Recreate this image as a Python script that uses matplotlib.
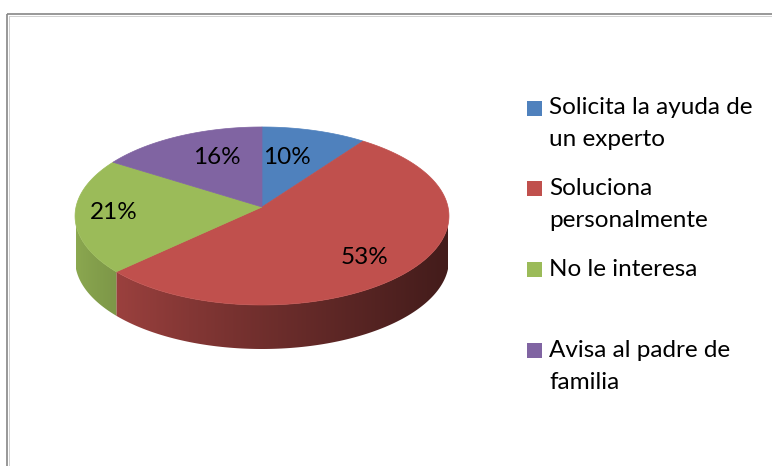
import numpy as np
import matplotlib.pyplot as plt
from matplotlib.colors import to_rgb
from matplotlib.patches import Polygon, Rectangle

labels = ['Solicita la ayuda de\nun experto', 'Soluciona\npersonalmente',
          'No le interesa', 'Avisa al padre de\nfamilia']
values = [10, 53, 21, 16]
colors = ['#4F81BD', '#C0504D', '#9BBB59', '#8064A2']

W, H = 772, 466
plt.rcParams['font.family'] = ['Lato', 'DejaVu Sans']

# pie geometry in pixel units (simple perspective: far side shrinks)
cx, cy = 262, 207
ra, rb = 186, 88.1
persp = 0.101
depth = 44
FS = 17.5
label_r = 0.7
label_nudge = [(-13, 5), (0, 8), (-18, 0), (14, 1)]

fig = plt.figure(figsize=(W / 100, H / 100), dpi=100)
ax = fig.add_axes([0, 0, 1, 1])
ax.set_xlim(0, W)
ax.set_ylim(H, 0)
ax.axis('off')

total = float(sum(values))
spans = [v / total * 360 for v in values]
starts = 90 - np.concatenate([[0], np.cumsum(spans)[:-1]])
ends = starts - np.array(spans)


def proj(theta, r=1.0, dz=0):
    t = np.radians(theta)
    X, Y = r * np.cos(t), r * np.sin(t)
    w = 1 + persp * Y
    return cx + ra * X / w, cy - rb * Y / w + dz


# side wall: visible part is the front half (180..360 deg)
xl, xr = cx - ra, cx + ra
gx = np.linspace(0, 1, 400)
shade = 0.9 - 0.55 * gx ** 0.8
for i in range(len(values)):
    a0, a1 = ends[i] % 360, starts[i] % 360
    if a1 <= a0:
        a1 += 360
    segs = []
    for lo, hi in [(180, 360), (540, 720)]:
        s, e = max(a0, lo), min(a1, hi)
        if e > s:
            segs.append((s, e))
    for s, e in segs:
        ts = np.linspace(s, e, 200)
        top = [proj(t) for t in ts]
        bot = [proj(t, dz=depth) for t in ts[::-1]]
        poly = Polygon(top + bot, closed=True, facecolor='none', edgecolor='none')
        ax.add_patch(poly)
        base = np.array(to_rgb(colors[i]))
        img = np.clip(shade[None, :, None] * base[None, None, :], 0, 1)
        img = np.repeat(img, 2, axis=0)
        im = ax.imshow(img, extent=(xl, xr, cy + rb * 2 + depth, cy - rb * 2),
                       aspect='auto', interpolation='bilinear')
        im.set_clip_path(poly)

ax.set_xlim(0, W)
ax.set_ylim(H, 0)

# top wedges
for i in range(len(values)):
    ts = np.linspace(starts[i], ends[i], 200)
    pts = [(cx, cy)] + [proj(t) for t in ts]
    ax.add_patch(Polygon(pts, closed=True, facecolor=colors[i], edgecolor=colors[i], lw=0.5))

# percentage labels
for i in range(len(values)):
    mid = (starts[i] + ends[i]) / 2
    lx, ly = proj(mid, r=label_r)
    lx += label_nudge[i][0]
    ly += label_nudge[i][1]
    ax.text(lx, ly, '%d%%' % values[i], fontsize=FS, ha='center', va='center', color='black')

# legend
for i, lab in enumerate(labels):
    yc = 108 + i * 80.7
    ax.add_patch(Rectangle((527, yc - 7.5), 15, 15, facecolor=colors[i], edgecolor='none'))
    for k, line in enumerate(lab.split('\n')):
        ax.text(549, yc + k * 32, line, fontsize=FS, ha='left', va='center', color='black')

# chart border
ax.plot([7, 7], [14, H], color='#868686', lw=1.2, solid_capstyle='butt')
ax.plot([7, W], [14, 14], color='#868686', lw=1.2, solid_capstyle='butt')
ax.plot([8.6, 8.6], [15.6, H], color='#d0d0d0', lw=0.7)
ax.plot([8.6, W], [15.6, 15.6], color='#d0d0d0', lw=0.7)

fig.savefig('out.png', dpi=100)
